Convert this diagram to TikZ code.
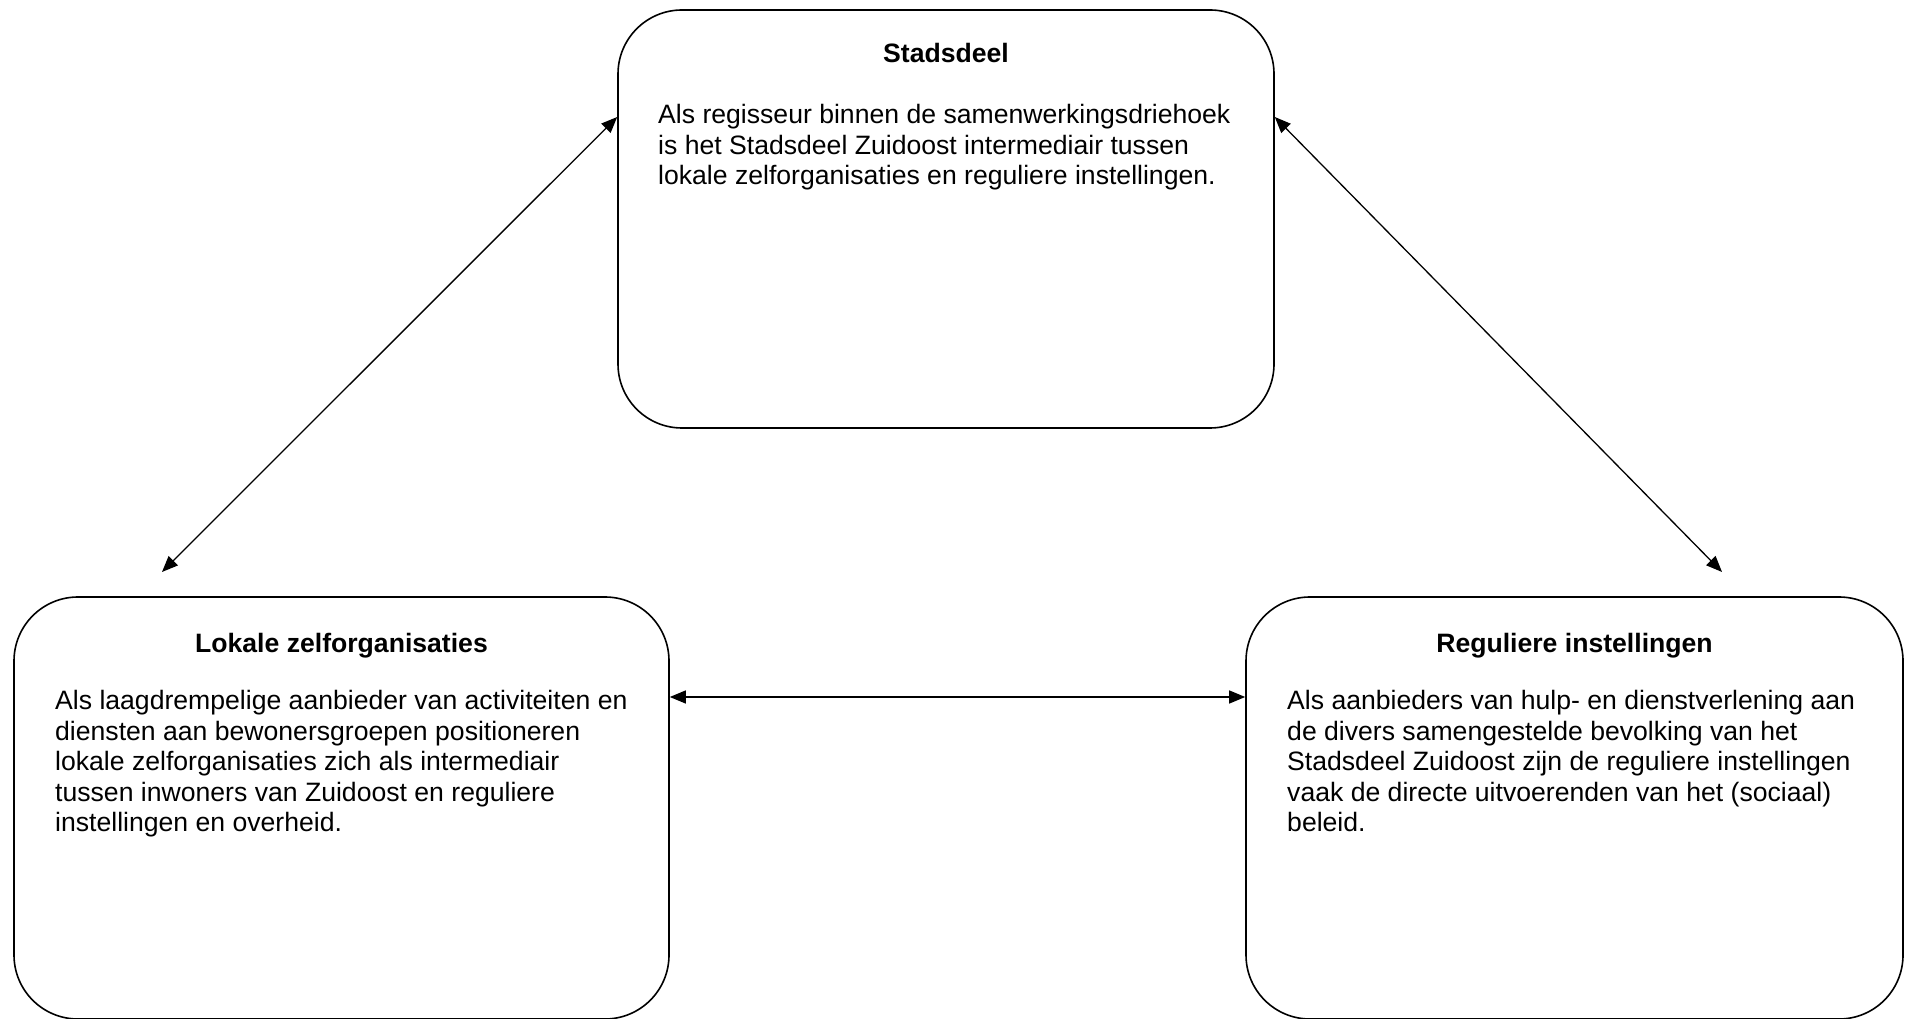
\documentclass[tikz,border=0pt]{standalone}
\usepackage{fontspec}
\setmainfont{Liberation Sans}
\usetikzlibrary{arrows.meta}
\begin{document}
\begin{tikzpicture}[x=1pt,y=1pt,
  boxshape/.style={draw, line width=1.6pt, rounded corners=64pt, inner sep=0pt, minimum height=420pt},
  titletext/.style={anchor=base, inner sep=0pt, font=\fontsize{26.6}{30.6}\selectfont\bfseries},
  bodytext/.style={anchor=base west, inner sep=0pt, align=left, font=\fontsize{26.6}{30.6}\selectfont},
  link/.style={line width=1.3pt, {Triangle[length=16pt,width=13pt]}-{Triangle[length=16pt,width=13pt]}}]
\useasboundingbox (0,0) rectangle (1912,1018);
% boxes
\node[boxshape, minimum width=656pt, minimum height=418pt] (top) at (946,799) {};
\node[boxshape, minimum width=655pt, minimum height=422pt] (left) at (341.5,210) {};
\node[boxshape, minimum width=657pt, minimum height=422pt] (right) at (1574.5,210) {};
% texts (base anchor = baseline of the last line)
\node[titletext] (toptitle) at (946,955) {Stadsdeel};
\node[bodytext] (topbody) at (658,833) {Als regisseur binnen de samenwerkingsdriehoek\\is het Stadsdeel Zuidoost intermediair tussen\\lokale zelforganisaties en reguliere instellingen.};
\node[titletext] (lefttitle) at (341.5,365) {Lokale zelforganisaties};
\node[bodytext] (leftbody) at (55,186) {Als laagdrempelige aanbieder van activiteiten en\\diensten aan bewonersgroepen positioneren\\lokale zelforganisaties zich als intermediair\\tussen inwoners van Zuidoost en reguliere\\instellingen en overheid.};
\node[titletext] (righttitle) at (1574.5,365) {Reguliere instellingen};
\node[bodytext] (rightbody) at (1287,186) {Als aanbieders van hulp- en dienstverlening aan\\de divers samengestelde bevolking van het\\Stadsdeel Zuidoost zijn de reguliere instellingen\\vaak de directe uitvoerenden van het (sociaal)\\beleid.};
% connector ends
\coordinate (topw) at (top.west |- 0,901);
\coordinate (tope) at (top.east |- 0,901);
\coordinate (leftend) at (162,446);
\coordinate (rightend) at (1722,446);
\coordinate (lefte) at (left.east |- 0,321);
\coordinate (rightw) at (right.west |- 0,321);
\draw[link] (topw) -- (leftend);
\draw[link] (tope) -- (rightend);
\draw[link] (lefte) -- (rightw);
\end{tikzpicture}
\end{document}
